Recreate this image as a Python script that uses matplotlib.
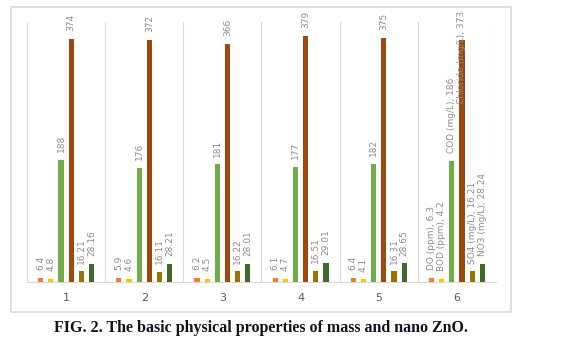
import numpy as np
import matplotlib.pyplot as plt
from matplotlib.patches import Rectangle

groups = ['1', '2', '3', '4', '5', '6']
series_names = ['DO (ppm)', 'BOD (ppm)', 'COD (mg/L)', 'Chloride (mg/L)', 'SO4 (mg/L)', 'NO3 (mg/L)']
do_vals = [6.4, 5.9, 6.2, 6.1, 6.4, 6.3]
bod_vals = [4.8, 4.6, 4.5, 4.7, 4.1, 4.2]
cod_vals = [188, 176, 181, 177, 182, 186]
chloride_vals = [374, 372, 366, 379, 375, 373]
so4_vals = [16.21, 16.11, 16.22, 16.51, 16.31, 16.21]
no3_vals = [28.16, 28.21, 28.01, 29.01, 28.65, 28.24]
value_text = [
    ['6.4', '5.9', '6.2', '6.1', '6.4', '6.3'],
    ['4.8', '4.6', '4.5', '4.7', '4.1', '4.2'],
    ['188', '176', '181', '177', '182', '186'],
    ['374', '372', '366', '379', '375', '373'],
    ['16.21', '16.11', '16.22', '16.51', '16.31', '16.21'],
    ['28.16', '28.21', '28.01', '29.01', '28.65', '28.24'],
]
colors = ['#ED7D31', '#FFC000', '#70AD47', '#9E480E', '#997300', '#43682B']

series = [do_vals, bod_vals, cod_vals, chloride_vals, so4_vals, no3_vals]

fig = plt.figure(figsize=(5.79, 3.42), dpi=100)

# light frame around the chart area
fig.patches.append(Rectangle((11 / 579, 1 - 312 / 342), 500 / 579, 305 / 342,
                             transform=fig.transFigure, fill=False,
                             edgecolor='#d9d9d9', linewidth=1.2))

ax = fig.add_axes([27 / 579, 1 - 282 / 342, 469 / 579, 260 / 342])
x = np.arange(len(groups))
step = 0.13
width = 0.065
label_color = '#8c8c8c'

for i, (vals, col) in enumerate(zip(series, colors)):
    pos = x + (i - 2.5) * step
    ax.bar(pos, vals, width=width, color=col, zorder=3)
    for j, (p, v) in enumerate(zip(pos, vals)):
        txt = value_text[i][j]
        if j == len(groups) - 1:
            txt = series_names[i] + ', ' + txt
        if j == len(groups) - 1 and i == 3:
            # no room above the tallest bar: label overlaps the bar top
            ax.text(p, 345, txt, rotation=90, ha='center', va='center',
                    fontsize=6.5, color=label_color, clip_on=False, zorder=4)
        else:
            ax.text(p, v + 12, txt, rotation=90, ha='center', va='bottom',
                    fontsize=6.5, color=label_color, clip_on=False, zorder=4)

ax.set_xlim(-0.5, len(groups) - 0.5)
ax.set_ylim(0, 400)
ax.set_xticks(x)
ax.set_xticklabels(groups, fontsize=8, color='#595959')
ax.tick_params(axis='x', length=0, pad=8)
ax.set_yticks([])

# group separators
for b in np.arange(-0.5, len(groups), 1.0):
    ax.axvline(b, color='#d9d9d9', linewidth=0.8, zorder=1)

for s in ['top', 'left', 'right']:
    ax.spines[s].set_visible(False)
ax.spines['bottom'].set_color('#d9d9d9')
ax.spines['bottom'].set_linewidth(0.8)

fig.text(261 / 579, 1 - 328 / 342, 'FIG. 2. The basic physical properties of mass and nano ZnO.',
         ha='center', va='center', fontsize=11.5, fontweight='bold',
         family='Liberation Serif', color='#111122')

fig.savefig('out.png', dpi=100)
